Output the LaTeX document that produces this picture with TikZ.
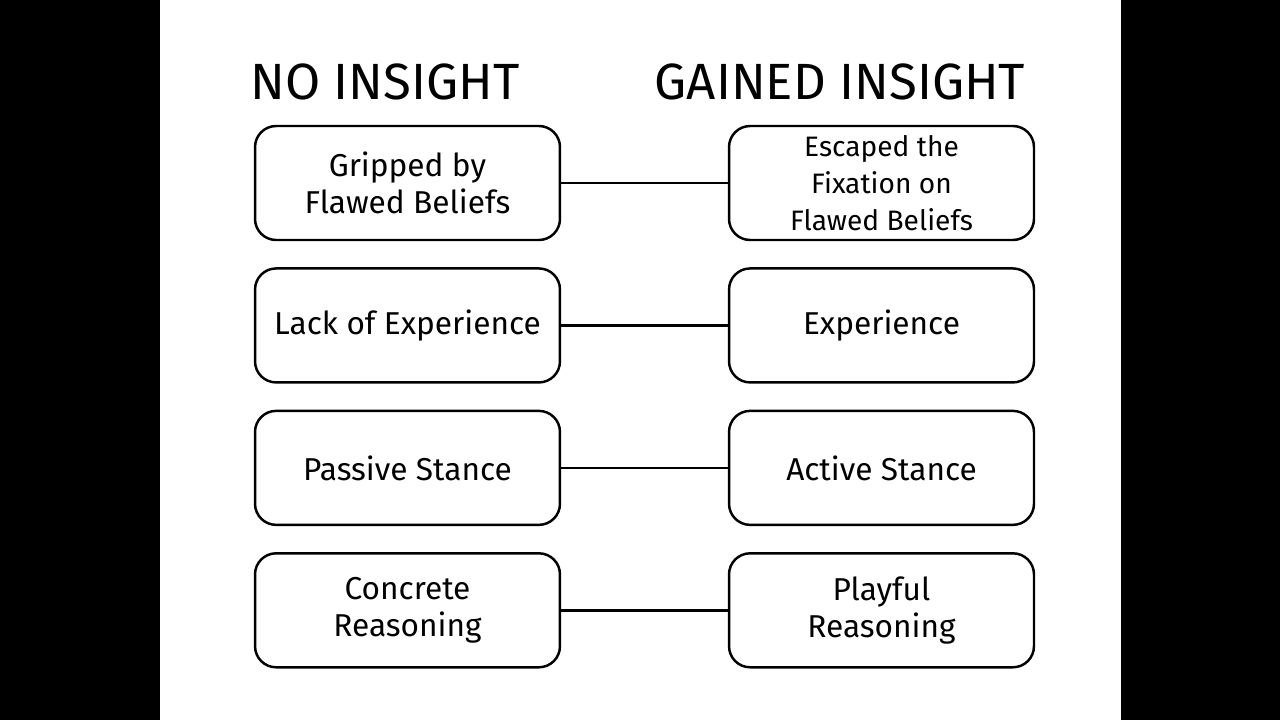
\documentclass[tikz,border=0pt]{standalone}
\usepackage{fontspec}
\setmainfont{Fira Sans}
\usetikzlibrary{positioning}

\begin{document}
\begin{tikzpicture}[
    x = 0.02cm, y = -0.02cm,
    semithick
    ]

    \tikzset{box/.style={
    draw = black,
    line width = 1.4pt,
    rounded corners = 12pt,
    minimum width = 6.1cm,
    minimum height = 2.28cm,
    align = center,
    font = \fontsize{18}{21}\selectfont
    }}
    \tikzset{title/.style={font = \fontsize{29}{32}\selectfont}}

    % panel
    \fill[black] (0,0) rectangle (1280,720);
    \fill[white] (160,0) rectangle (1121,720);

    \node[title] (t1) at (385,82) {NO INSIGHT};
    \node[title] (t2) at (840,82) {GAINED INSIGHT};

    \node[box] (a1) at (407.5,183) {Gripped by\\Flawed Beliefs};
    \node[box] (b1) at (881.5,183) {\fontsize{16}{17}\selectfont Escaped the\\\fontsize{16}{17}\selectfont Fixation on\\\fontsize{16}{17}\selectfont Flawed Beliefs};
    \node[box] (a2) [below=0.52cm of a1] {Lack of Experience};
    \node[box] (b2) [below=0.52cm of b1] {Experience};
    \node[box] (a3) [below=0.52cm of a2] {Passive Stance};
    \node[box] (b3) [below=0.52cm of b2] {Active Stance};
    \node[box] (a4) [below=0.52cm of a3] {Concrete\\Reasoning};
    \node[box] (b4) [below=0.52cm of b3] {Playful\\Reasoning};

    \foreach \i in {1,...,4}
      \draw[line width = 1.4pt] (a\i) -- (b\i);
\end{tikzpicture}
\end{document}
